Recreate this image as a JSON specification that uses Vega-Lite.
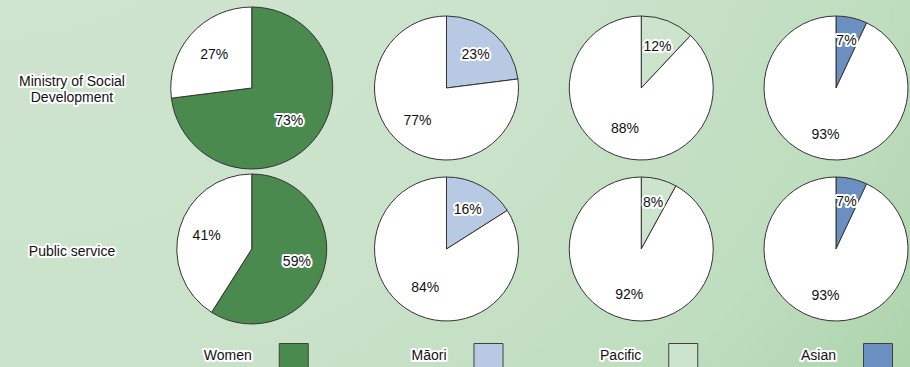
{
  "$schema": "https://vega.github.io/schema/vega-lite/v6.json",
  "width": 910,
  "height": 367,
  "padding": 0,
  "autosize": {"type": "none"},
  "background": "#c2dfc2",
  "config": {
    "view": {
      "stroke": null,
      "fill": {"gradient": "radial", "x1": 0, "y1": 0, "r1": 0, "x2": 0, "y2": 0, "r2": 1.42,
        "stops": [{"offset": 0, "color": "#d1e5d1"}, {"offset": 0.5, "color": "#cae2ca"}, {"offset": 0.72, "color": "#bfddbf"}, {"offset": 0.87, "color": "#abd3ab"}, {"offset": 1, "color": "#98c898"}]}
    },
    "text": {"font": "Liberation Sans", "fontSize": 14, "color": "#111111", "lineHeight": 16},
    "arc": {"stroke": "#333333", "strokeWidth": 1},
    "style": {"halo": {"stroke": "#ffffff", "strokeWidth": 4, "strokeJoin": "round"}}
  },
  "datasets": {
    "pies": [
      {"org": "Ministry of Social Development", "group": "Women", "part": "Women", "kind": "share", "value": 0.73},
      {"org": "Ministry of Social Development", "group": "Women", "part": "Rest", "kind": "rest", "value": 0.27},
      {"org": "Ministry of Social Development", "group": "Māori", "part": "Māori", "kind": "share", "value": 0.23},
      {"org": "Ministry of Social Development", "group": "Māori", "part": "Rest", "kind": "rest", "value": 0.77},
      {"org": "Ministry of Social Development", "group": "Pacific", "part": "Pacific", "kind": "share", "value": 0.12},
      {"org": "Ministry of Social Development", "group": "Pacific", "part": "Rest", "kind": "rest", "value": 0.88},
      {"org": "Ministry of Social Development", "group": "Asian", "part": "Asian", "kind": "share", "value": 0.07},
      {"org": "Ministry of Social Development", "group": "Asian", "part": "Rest", "kind": "rest", "value": 0.93},
      {"org": "Public service", "group": "Women", "part": "Women", "kind": "share", "value": 0.59},
      {"org": "Public service", "group": "Women", "part": "Rest", "kind": "rest", "value": 0.41},
      {"org": "Public service", "group": "Māori", "part": "Māori", "kind": "share", "value": 0.16},
      {"org": "Public service", "group": "Māori", "part": "Rest", "kind": "rest", "value": 0.84},
      {"org": "Public service", "group": "Pacific", "part": "Pacific", "kind": "share", "value": 0.08},
      {"org": "Public service", "group": "Pacific", "part": "Rest", "kind": "rest", "value": 0.92},
      {"org": "Public service", "group": "Asian", "part": "Asian", "kind": "share", "value": 0.07},
      {"org": "Public service", "group": "Asian", "part": "Rest", "kind": "rest", "value": 0.93}
    ],
    "rows": [
      {"org": "Ministry of Social Development", "name": "Ministry of Social\nDevelopment"},
      {"org": "Public service", "name": "Public service"}
    ],
    "legend": [
      {"group": "Women"}, {"group": "Māori"}, {"group": "Pacific"}, {"group": "Asian"}
    ]
  },
  "resolve": {"scale": {"y": "independent"}},
  "layer": [
    {
      "data": {"name": "pies"},
      "encoding": {
        "x": {"field": "group", "type": "nominal", "axis": null,
          "scale": {"type": "point", "domain": ["label", "Women", "Māori", "Pacific", "Asian"], "range": [57, 836], "padding": 0}},
        "y": {"field": "org", "type": "nominal", "axis": null,
          "scale": {"type": "point", "domain": ["Ministry of Social Development", "Public service"], "range": [88, 249], "padding": 0}},
        "theta": {"field": "value", "type": "quantitative", "stack": true, "scale": {"domain": [0, 1]}},
        "order": {"field": "kind", "type": "nominal", "sort": "descending"}
      },
      "layer": [
        {"transform": [{"filter": "datum.org == 'Ministry of Social Development' && datum.group == 'Women'"}],
         "layer": [
          {"mark": {"type": "arc", "radius": 81}, "encoding": {"color": {"field": "part", "type": "nominal", "legend": null, "scale": {"domain": ["Women", "Māori", "Pacific", "Asian", "Rest"], "range": ["#4a8a4f", "#b7c9e3", "#cde4cc", "#6b8fc0", "#ffffff"]}}}},
          {"mark": {"type": "text", "radius": 50, "style": "halo"}, "encoding": {"text": {"field": "value", "type": "quantitative", "format": ".0%"}}},
          {"mark": {"type": "text", "radius": 50}, "encoding": {"text": {"field": "value", "type": "quantitative", "format": ".0%"}}}
        ]},
        {"transform": [{"filter": "datum.org == 'Ministry of Social Development' && datum.group == 'Māori'"}],
         "layer": [
          {"mark": {"type": "arc", "radius": 72}, "encoding": {"color": {"field": "part", "type": "nominal", "legend": null, "scale": {"domain": ["Women", "Māori", "Pacific", "Asian", "Rest"], "range": ["#4a8a4f", "#b7c9e3", "#cde4cc", "#6b8fc0", "#ffffff"]}}}},
          {"mark": {"type": "text", "radius": 44, "style": "halo"}, "encoding": {"text": {"field": "value", "type": "quantitative", "format": ".0%"}}},
          {"mark": {"type": "text", "radius": 44}, "encoding": {"text": {"field": "value", "type": "quantitative", "format": ".0%"}}}
        ]},
        {"transform": [{"filter": "datum.org == 'Ministry of Social Development' && datum.group == 'Pacific'"}],
         "layer": [
          {"mark": {"type": "arc", "radius": 72}, "encoding": {"color": {"field": "part", "type": "nominal", "legend": null, "scale": {"domain": ["Women", "Māori", "Pacific", "Asian", "Rest"], "range": ["#4a8a4f", "#b7c9e3", "#cde4cc", "#6b8fc0", "#ffffff"]}}}},
          {"mark": {"type": "text", "radius": 44, "style": "halo"}, "encoding": {"text": {"field": "value", "type": "quantitative", "format": ".0%"}}},
          {"mark": {"type": "text", "radius": 44}, "encoding": {"text": {"field": "value", "type": "quantitative", "format": ".0%"}}}
        ]},
        {"transform": [{"filter": "datum.org == 'Ministry of Social Development' && datum.group == 'Asian'"}],
         "layer": [
          {"mark": {"type": "arc", "radius": 72}, "encoding": {"color": {"field": "part", "type": "nominal", "legend": null, "scale": {"domain": ["Women", "Māori", "Pacific", "Asian", "Rest"], "range": ["#4a8a4f", "#b7c9e3", "#cde4cc", "#6b8fc0", "#ffffff"]}}}},
          {"mark": {"type": "text", "radius": 48, "style": "halo"}, "encoding": {"text": {"field": "value", "type": "quantitative", "format": ".0%"}}},
          {"mark": {"type": "text", "radius": 48}, "encoding": {"text": {"field": "value", "type": "quantitative", "format": ".0%"}}}
        ]},
        {"transform": [{"filter": "datum.org == 'Public service' && datum.group == 'Women'"}],
         "layer": [
          {"mark": {"type": "arc", "radius": 75}, "encoding": {"color": {"field": "part", "type": "nominal", "legend": null, "scale": {"domain": ["Women", "Māori", "Pacific", "Asian", "Rest"], "range": ["#4a8a4f", "#b7c9e3", "#cde4cc", "#6b8fc0", "#ffffff"]}}}},
          {"mark": {"type": "text", "radius": 47, "style": "halo"}, "encoding": {"text": {"field": "value", "type": "quantitative", "format": ".0%"}}},
          {"mark": {"type": "text", "radius": 47}, "encoding": {"text": {"field": "value", "type": "quantitative", "format": ".0%"}}}
        ]},
        {"transform": [{"filter": "datum.org == 'Public service' && datum.group == 'Māori'"}],
         "layer": [
          {"mark": {"type": "arc", "radius": 72}, "encoding": {"color": {"field": "part", "type": "nominal", "legend": null, "scale": {"domain": ["Women", "Māori", "Pacific", "Asian", "Rest"], "range": ["#4a8a4f", "#b7c9e3", "#cde4cc", "#6b8fc0", "#ffffff"]}}}},
          {"mark": {"type": "text", "radius": 44, "style": "halo"}, "encoding": {"text": {"field": "value", "type": "quantitative", "format": ".0%"}}},
          {"mark": {"type": "text", "radius": 44}, "encoding": {"text": {"field": "value", "type": "quantitative", "format": ".0%"}}}
        ]},
        {"transform": [{"filter": "datum.org == 'Public service' && datum.group == 'Pacific'"}],
         "layer": [
          {"mark": {"type": "arc", "radius": 72}, "encoding": {"color": {"field": "part", "type": "nominal", "legend": null, "scale": {"domain": ["Women", "Māori", "Pacific", "Asian", "Rest"], "range": ["#4a8a4f", "#b7c9e3", "#cde4cc", "#6b8fc0", "#ffffff"]}}}},
          {"mark": {"type": "text", "radius": 48, "style": "halo"}, "encoding": {"text": {"field": "value", "type": "quantitative", "format": ".0%"}}},
          {"mark": {"type": "text", "radius": 48}, "encoding": {"text": {"field": "value", "type": "quantitative", "format": ".0%"}}}
        ]},
        {"transform": [{"filter": "datum.org == 'Public service' && datum.group == 'Asian'"}],
         "layer": [
          {"mark": {"type": "arc", "radius": 72}, "encoding": {"color": {"field": "part", "type": "nominal", "legend": null, "scale": {"domain": ["Women", "Māori", "Pacific", "Asian", "Rest"], "range": ["#4a8a4f", "#b7c9e3", "#cde4cc", "#6b8fc0", "#ffffff"]}}}},
          {"mark": {"type": "text", "radius": 48, "style": "halo"}, "encoding": {"text": {"field": "value", "type": "quantitative", "format": ".0%"}}},
          {"mark": {"type": "text", "radius": 48}, "encoding": {"text": {"field": "value", "type": "quantitative", "format": ".0%"}}}
        ]}
      ]
    },
    {
      "data": {"name": "rows"},
      "encoding": {
        "x": {"datum": "label", "type": "nominal", "axis": null,
          "scale": {"type": "point", "domain": ["label", "Women", "Māori", "Pacific", "Asian"], "range": [57, 836], "padding": 0}},
        "y": {"field": "org", "type": "nominal", "axis": null,
          "scale": {"type": "point", "domain": ["Ministry of Social Development", "Public service"], "range": [88, 249], "padding": 0}},
        "text": {"field": "name", "type": "nominal"}
      },
      "layer": [
        {"transform": [{"filter": "datum.org == 'Ministry of Social Development'"}],
         "layer": [
          {"mark": {"type": "text", "style": "halo", "lineBreak": "\n", "dx": 15, "dy": -6}},
          {"mark": {"type": "text", "lineBreak": "\n", "dx": 15, "dy": -6}}
        ]},
        {"transform": [{"filter": "datum.org == 'Public service'"}],
         "layer": [
          {"mark": {"type": "text", "style": "halo", "dx": 15, "dy": 3}},
          {"mark": {"type": "text", "dx": 15, "dy": 3}}
        ]}
      ]
    },
    {
      "data": {"name": "legend"},
      "encoding": {
        "x": {"field": "group", "type": "nominal", "axis": null,
          "scale": {"type": "point", "domain": ["label", "Women", "Māori", "Pacific", "Asian"], "range": [57, 836], "padding": 0}},
        "y": {"datum": "legend", "type": "nominal", "axis": null,
          "scale": {"type": "point", "domain": ["legend"], "range": [356, 356], "padding": 0}}
      },
      "layer": [
        {"mark": {"type": "square", "size": 841, "filled": true, "opacity": 1, "stroke": "#404040", "strokeWidth": 1, "xOffset": 42, "yOffset": 2},
         "encoding": {"color": {"field": "group", "type": "nominal", "legend": null, "scale": {"domain": ["Women", "Māori", "Pacific", "Asian", "Rest"], "range": ["#4a8a4f", "#b7c9e3", "#cde4cc", "#6b8fc0", "#ffffff"]}}}},
        {"mark": {"type": "text", "style": "halo", "align": "right"}, "encoding": {"text": {"field": "group", "type": "nominal"}}},
        {"mark": {"type": "text", "align": "right"}, "encoding": {"text": {"field": "group", "type": "nominal"}}}
      ]
    }
  ]
}
